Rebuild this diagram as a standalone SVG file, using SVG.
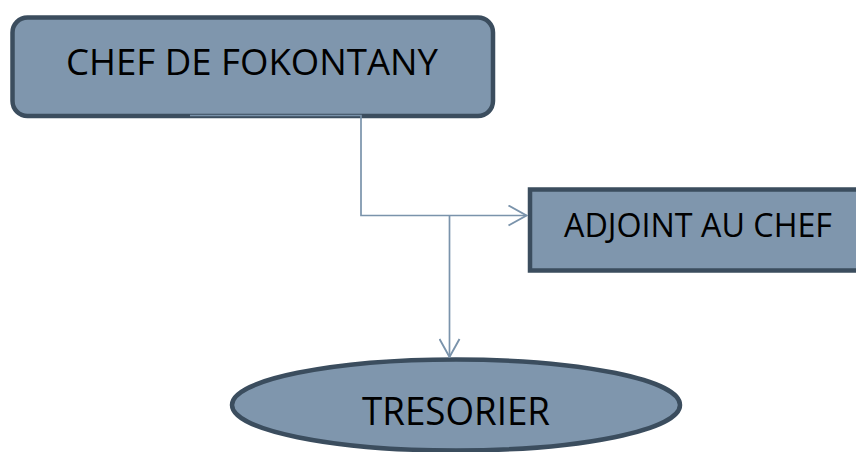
<svg xmlns="http://www.w3.org/2000/svg" width="856" height="452" viewBox="0 0 856 452">
  <style>
    .node { fill: #7f96ad; stroke: #3b4d5e; stroke-width: 4.5; }
    .label { font-family: "Open Sans", "Liberation Sans", Arial, sans-serif; fill: #000; text-anchor: start; }
    .link { fill: none; stroke: #7a93ab; stroke-width: 1.7; }
  </style>
  <defs>
    <marker id="open-arrow" viewBox="0 0 20 22" refX="19" refY="11" markerWidth="20" markerHeight="22" markerUnits="userSpaceOnUse" orient="auto">
      <path d="M1 1 L19 11 L1 21" fill="none" stroke="#7a93ab" stroke-width="1.9"/>
    </marker>
  </defs>

  <g id="chef">
    <rect class="node" x="12.5" y="17.5" width="480.5" height="98.5" rx="15" ry="15"/>
    <text class="label" x="66" y="75" font-size="37" textLength="372" lengthAdjust="spacingAndGlyphs">CHEF DE FOKONTANY</text>
  </g>

  <g id="adjoint">
    <rect class="node" x="530" y="189.5" width="340" height="81"/>
    <text class="label" x="564" y="237" font-size="32" textLength="268" lengthAdjust="spacingAndGlyphs">ADJOINT AU CHEF</text>
  </g>

  <g id="tresorier">
    <ellipse class="node" cx="456" cy="405" rx="224" ry="45.5"/>
    <text class="label" x="362" y="425" font-size="38" textLength="188" lengthAdjust="spacingAndGlyphs">TRESORIER</text>
  </g>

  <g id="connectors">
    <path class="link" d="M190 115.5 H361 V215.5 H526.5" marker-end="url(#open-arrow)"/>
    <path class="link" d="M449.5 215.5 V357" marker-end="url(#open-arrow)"/>
  </g>
</svg>
